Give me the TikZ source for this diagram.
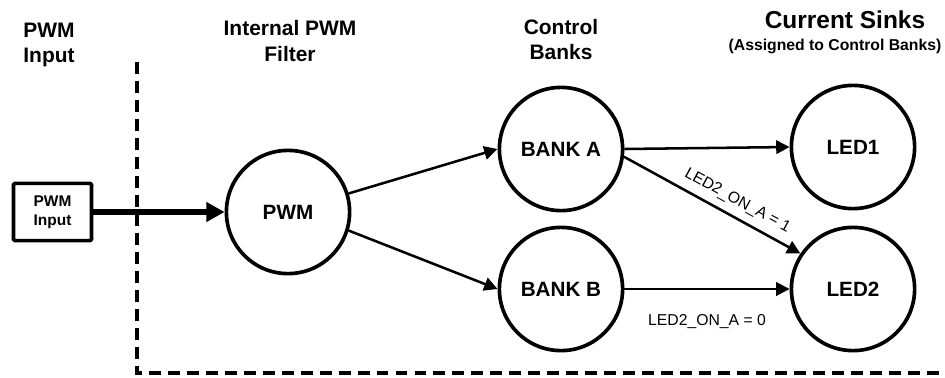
\documentclass[tikz,border=0pt]{standalone}
\usepackage{fontspec}
\setmainfont{Liberation Sans}
\usetikzlibrary{arrows.meta,positioning}

\begin{document}
\begin{tikzpicture}[x=0.025cm,y=-0.025cm,
  hdr/.style={font=\bfseries\fontsize{14.9}{17.8}\selectfont,align=center},
  blob/.style={circle,draw,line width=2.6pt,minimum size=3.08cm,inner sep=0pt,
            font=\bfseries\fontsize{14.7}{17}\selectfont},
  src/.style={draw,line width=2.6pt,rounded corners=1pt,
            minimum width=1.95cm,minimum height=1.43cm,inner sep=0pt,
            font=\bfseries\fontsize{11}{13.5}\selectfont,align=center},
  link/.style={-{Triangle[length=9.5pt,width=9.5pt]},line width=1.8pt},
  cond/.style={font=\fontsize{11.2}{13}\selectfont}]
  \useasboundingbox (0,0) rectangle (945,377);
  % column headings
  \node[hdr] (hin)   at (49,45)  {PWM\\Input};
  \node[hdr] (hfil)  at (290,41) {Internal PWM\\Filter};
  \node[hdr] (hbank) at (561,39.5) {Control\\Banks};
  \node[hdr,font=\bfseries\fontsize{17.4}{20}\selectfont] (hsink) at (845,20) {Current Sinks};
  \node[font=\bfseries\fontsize{11.2}{13}\selectfont] (hnote) at (835,46) {(Assigned to Control Banks)};
  % filter boundary
  \draw[line width=2.4pt,dash pattern=on 8.5pt off 5pt] (137,62) -- (137,373) -- (941,373);
  % blocks
  \node[src]  (inp)   at (52.5,212) {PWM\\Input};
  \node[blob] (pwm)   at (288,212)  {PWM};
  \node[blob] (banka) at (561,149)  {BANK A};
  \node[blob] (bankb) at (561,289)  {BANK B};
  \node[blob] (led1)  at (853,147)  {LED1};
  \node[blob] (led2)  at (853,289)  {LED2};
  % connections
  \draw[-{Triangle[length=13pt,width=13.5pt]},line width=4pt] (inp.east) -- (pwm.west);
  \draw[link] (pwm.17)  -- (banka.west);
  \draw[link] (pwm.-17) -- (bankb.west);
  \draw[link] (banka.east) -- (led1.west);
  \draw[link] (banka.-7) -- (led2.146)
    node[cond,pos=0.6,sloped,above=2pt] {LED2\_ON\_A = 1};
  \draw[link] (bankb.east) -- (led2.west)
    node[cond,midway,below=14pt] {LED2\_ON\_A = 0};
\end{tikzpicture}
\end{document}
